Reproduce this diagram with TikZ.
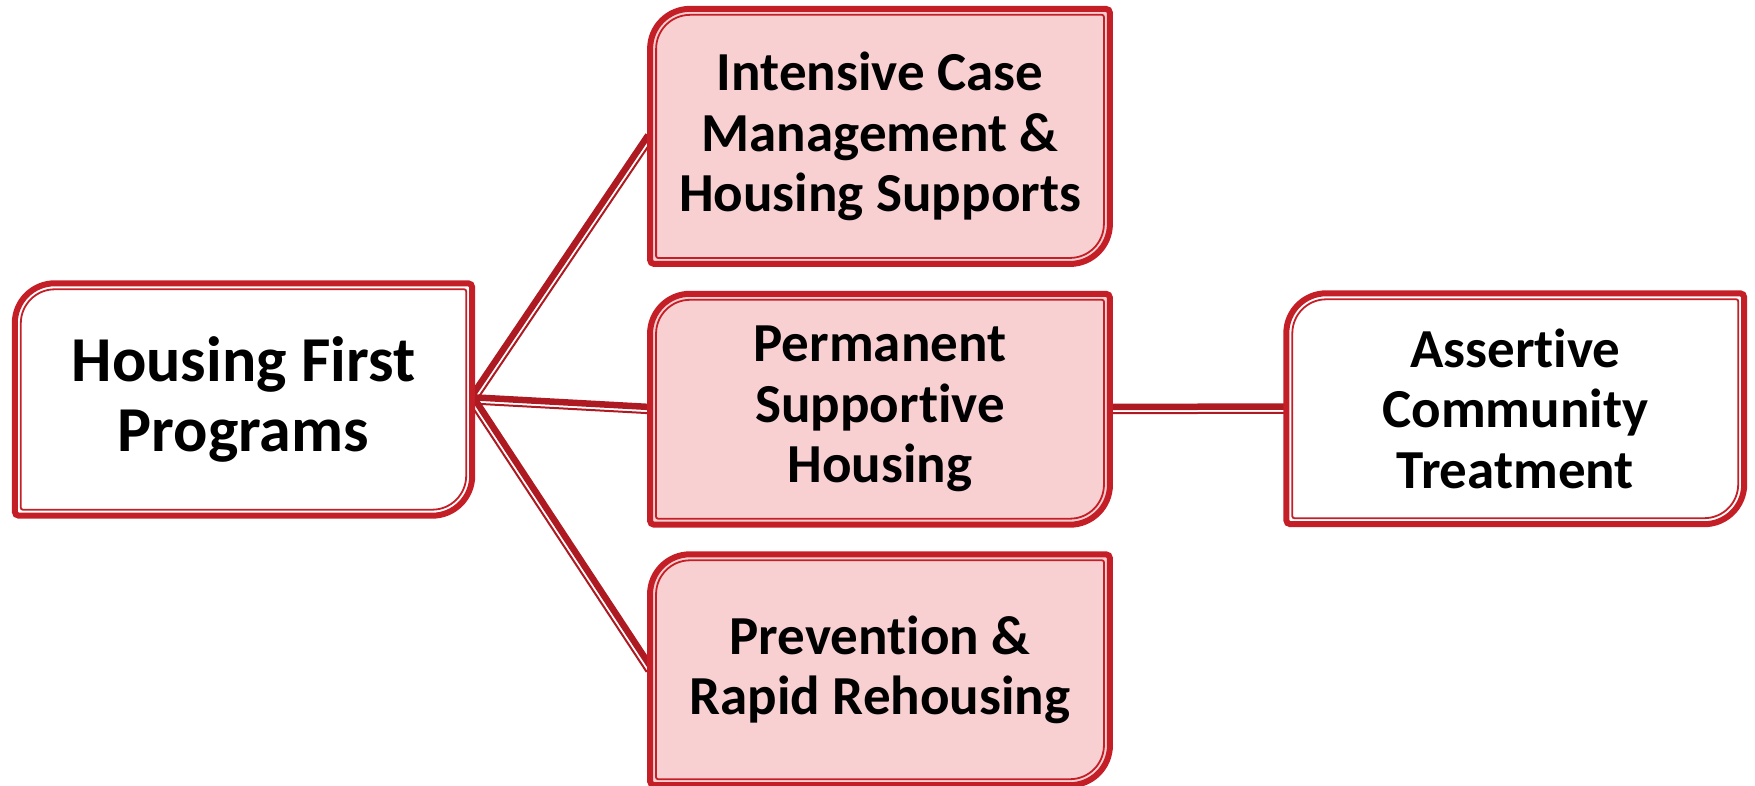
\documentclass[tikz,border=0pt]{standalone}
\usepackage{fontspec}
\setmainfont[Ligatures=NoCommon]{Carlito}
\usetikzlibrary{calc,backgrounds}
\definecolor{bord}{HTML}{C41E27}
\definecolor{conn}{HTML}{AD1A22}
\definecolor{pinkf}{HTML}{F8D0D2}
\tikzset{
  outerline/.style={draw=bord, line width=6pt},
  innerline/.style={draw=bord, line width=1.8pt},
  connthick/.style={draw=conn, line width=6.5pt},
  connthin/.style={draw=conn, line width=2pt},
  lbl/.style={inner sep=0pt, align=center, font=\bfseries\fontsize{55}{60.5}\selectfont},
  bigl/.style={inner sep=0pt, align=center, font=\bfseries\fontsize{64}{70}\selectfont},
}
\newcommand\rdbox[2]{%
  \draw[outerline, fill=#2] ([yshift=-40pt]#1.north west) arc[start angle=180,end angle=90,radius=40pt]
    -- ([xshift=-4pt]#1.north east) arc[start angle=90,end angle=0,radius=4pt]
    -- ([yshift=40pt]#1.south east) arc[start angle=0,end angle=-90,radius=40pt]
    -- ([xshift=4pt]#1.south west) arc[start angle=270,end angle=180,radius=4pt] -- cycle;
  \draw[innerline] ([xshift=6pt,yshift=-40pt]#1.north west) arc[start angle=180,end angle=90,radius=34pt]
    -- ([xshift=-8pt,yshift=-6pt]#1.north east) arc[start angle=90,end angle=0,radius=2pt]
    -- ([xshift=-6pt,yshift=40pt]#1.south east) arc[start angle=0,end angle=-90,radius=34pt]
    -- ([xshift=8pt,yshift=6pt]#1.south west) arc[start angle=270,end angle=180,radius=2pt] -- cycle;
}
\newcommand\conline[2]{%
  \draw[connthick] ($(#1)!2.25pt!90:(#2)$) -- ($(#2)!2.25pt!-90:(#1)$);
  \draw[connthin] ($(#1)!4pt!-90:(#2)$) -- ($(#2)!4pt!90:(#1)$);
}
\begin{document}
\begin{tikzpicture}[x=1pt,y=1pt]
\useasboundingbox (0,0) rectangle (1755,785);
\clip (0,0) rectangle (1755,785);
\node[bigl, minimum width=457pt, minimum height=232pt] (hf) at (243.5,385.5) {Housing First\\Programs};
\node[lbl, minimum width=459.4pt, minimum height=254.7pt] (icm) at (880,648.6) {Intensive Case\\Management \&\\Housing Supports};
\node[lbl, minimum width=459.5pt, minimum height=230.5pt] (psh) at (880,375.75) {Permanent\\Supportive\\Housing};
\node[lbl, minimum width=459.5pt, minimum height=230.5pt] (prr) at (880,115.25) {Prevention \&\\Rapid Rehousing};
\node[lbl, minimum width=457.5pt, minimum height=230.5pt] (act) at (1515.25,376.25) {Assertive\\Community\\Treatment};
\begin{pgfonlayer}{background}
  \coordinate (src) at (hf.east);
  \conline{src}{icm.west}
  \conline{src}{psh.west}
  \conline{src}{prr.west}
  \conline{psh.east}{act.west}
  \rdbox{hf}{white}
  \rdbox{icm}{pinkf}
  \rdbox{psh}{pinkf}
  \rdbox{prr}{pinkf}
  \rdbox{act}{white}
\end{pgfonlayer}
\end{tikzpicture}
\end{document}
